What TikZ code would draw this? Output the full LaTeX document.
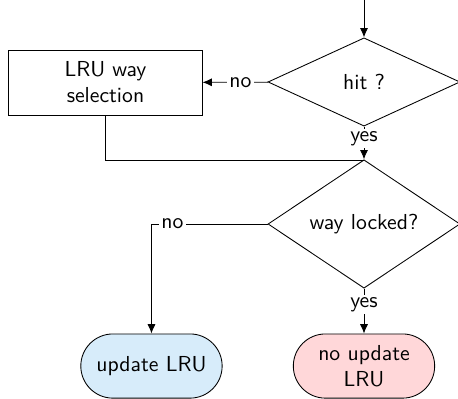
\documentclass[tikz,border=0pt]{standalone}
\usepackage{tikz}
\usetikzlibrary{positioning, arrows.meta, shapes.geometric}

\definecolor{updblue}{RGB}{215,236,250}
\definecolor{noupdred}{RGB}{255,215,217}

\begin{document}
\begin{tikzpicture}[
  font=\sffamily,
  decision/.style={draw, diamond, inner sep=0pt,
                   minimum width=3.11cm, minimum height=1.43cm},
  procstep/.style={draw, align=center,
                   minimum width=3.13cm, minimum height=1.05cm},
  endstep/.style={draw, rounded corners=0.52cm, align=center,
                  minimum width=2.29cm, minimum height=1.04cm},
  lbl/.style={fill=white, inner sep=1pt},
  arrow/.style={-{Latex[length=1.5mm, width=1.3mm]}},
]
\useasboundingbox (0,0) rectangle (7.42,-6.448);

\coordinate (start) at (5.897, 0);
\node[decision] (hit) at (5.897, -1.328) {hit ?};
\node[procstep] (lru) at (1.709, -1.337) {LRU way\\selection};
\coordinate (join) at (5.897, -2.592);
\node[decision] (locked) at (5.897, -3.629) {way locked?};
\node[endstep, fill=updblue] (upd) at (2.454, -5.93) {update LRU};
\node[endstep, fill=noupdred] (noupd) at (5.897, -5.93) {no update\\LRU};

\draw[arrow] (start) -- (hit);
\draw[arrow] (hit) -- node[lbl, pos=0.42] {no} (lru);
\draw[arrow] (hit) -- node[lbl, pos=0.36] {yes} (locked);
\draw (lru) |- (join);
\draw[arrow] (locked) -| node[lbl, pos=0.41] {no} (upd);
\draw[arrow] (locked) -- node[lbl, pos=0.35] {yes} (noupd);
\end{tikzpicture}
\end{document}
